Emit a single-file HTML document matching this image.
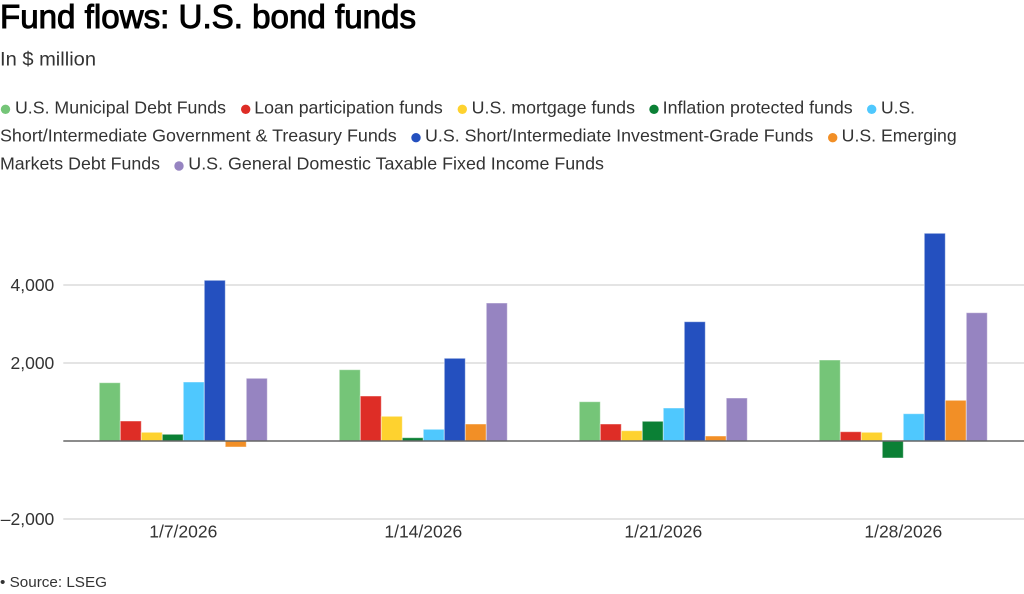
<!DOCTYPE html>
<html>
<head>
<meta charset="utf-8">
<style>
  html, body { margin: 0; padding: 0; background: #fff; }
  body { width: 1024px; height: 594px; overflow: hidden; }
  svg { display: block; }
  text { font-family: "Liberation Sans", Arial, sans-serif; }
</style>
</head>
<body>
<svg width="1024" height="594" viewBox="0 0 1024 594" xmlns="http://www.w3.org/2000/svg">
  <rect width="1024" height="594" fill="#fff"/>

  <!-- Title -->
  <text x="0" y="28" font-size="33" fill="#000" stroke="#000" stroke-width="1.0" textLength="416" lengthAdjust="spacingAndGlyphs">Fund flows: U.S. bond funds</text>
  <text x="0" y="65.7" font-size="19" fill="#333" textLength="96" lengthAdjust="spacingAndGlyphs">In $ million</text>

  <!-- Legend -->
  <g font-size="17.6" fill="#333">
    <circle cx="5.5" cy="109.3" r="4.7" fill="#75c578"/>
    <text x="15" y="113.3" textLength="211" lengthAdjust="spacingAndGlyphs">U.S. Municipal Debt Funds</text>
    <circle cx="245.7" cy="109.3" r="4.7" fill="#de2d26"/>
    <text x="254.3" y="113.3" textLength="188.4" lengthAdjust="spacingAndGlyphs">Loan participation funds</text>
    <circle cx="462.3" cy="109.3" r="4.7" fill="#fed22f"/>
    <text x="471.7" y="113.3" textLength="163.3" lengthAdjust="spacingAndGlyphs">U.S. mortgage funds</text>
    <circle cx="654" cy="109.3" r="4.7" fill="#0b8035"/>
    <text x="662.7" y="113.3" textLength="190" lengthAdjust="spacingAndGlyphs">Inflation protected funds</text>
    <circle cx="871.7" cy="109.3" r="4.7" fill="#4fc8fe"/>
    <text x="881" y="113.3" textLength="34" lengthAdjust="spacingAndGlyphs">U.S.</text>

    <text x="0" y="141.7" textLength="396.7" lengthAdjust="spacingAndGlyphs">Short/Intermediate Government &amp; Treasury Funds</text>
    <circle cx="416" cy="137.7" r="4.7" fill="#2450bf"/>
    <text x="425" y="141.7" textLength="388.3" lengthAdjust="spacingAndGlyphs">U.S. Short/Intermediate Investment-Grade Funds</text>
    <circle cx="832.7" cy="137.7" r="4.7" fill="#f28f26"/>
    <text x="841.7" y="141.7" textLength="115" lengthAdjust="spacingAndGlyphs">U.S. Emerging</text>

    <text x="0" y="169.3" textLength="160" lengthAdjust="spacingAndGlyphs">Markets Debt Funds</text>
    <circle cx="179" cy="166" r="4.7" fill="#9684c1"/>
    <text x="188.3" y="169.3" textLength="415.7" lengthAdjust="spacingAndGlyphs">U.S. General Domestic Taxable Fixed Income Funds</text>
  </g>

  <!-- Gridlines -->
  <g stroke="#dcdcdc" stroke-width="1.4">
    <line x1="63.3" y1="285" x2="1024" y2="285"/>
    <line x1="63.3" y1="363" x2="1024" y2="363"/>
    <line x1="63.3" y1="519" x2="1024" y2="519"/>
  </g>

  <!-- Y labels -->
  <g font-size="17.5" fill="#333" text-anchor="end">
    <text x="54.3" y="291">4,000</text>
    <text x="54.3" y="369">2,000</text>
    <text x="54.3" y="525">–2,000</text>
  </g>

  <!-- Bars -->
  <g stroke="rgba(255,255,255,0.45)" stroke-width="1">
    <rect x="99.3"  y="382.7" width="21" height="58.3" fill="#75c578"/>
    <rect x="120.3" y="421"   width="21" height="20"   fill="#de2d26"/>
    <rect x="141.3" y="432.3" width="21" height="8.7"  fill="#fed22f"/>
    <rect x="162.3" y="434.3" width="21" height="6.7"  fill="#0b8035"/>
    <rect x="183.3" y="382"   width="21" height="59"   fill="#4fc8fe"/>
    <rect x="204.3" y="280.3" width="21" height="160.7" fill="#2450bf"/>
    <rect x="225.3" y="441"   width="21" height="6"    fill="#f28f26"/>
    <rect x="246.3" y="378.3" width="21" height="62.7" fill="#9684c1"/>

    <rect x="339.3" y="369.7" width="21" height="71.3" fill="#75c578"/>
    <rect x="360.3" y="396"   width="21" height="45"   fill="#de2d26"/>
    <rect x="381.3" y="416.3" width="21" height="24.7" fill="#fed22f"/>
    <rect x="402.3" y="437.7" width="21" height="3.3"  fill="#0b8035"/>
    <rect x="423.3" y="429.3" width="21" height="11.7" fill="#4fc8fe"/>
    <rect x="444.3" y="358.3" width="21" height="82.7" fill="#2450bf"/>
    <rect x="465.3" y="424"   width="21" height="17"   fill="#f28f26"/>
    <rect x="486.3" y="303"   width="21" height="138"  fill="#9684c1"/>

    <rect x="579.3" y="401.7" width="21" height="39.3" fill="#75c578"/>
    <rect x="600.3" y="424"   width="21" height="17"   fill="#de2d26"/>
    <rect x="621.3" y="430.7" width="21" height="10.3" fill="#fed22f"/>
    <rect x="642.3" y="421.3" width="21" height="19.7" fill="#0b8035"/>
    <rect x="663.3" y="408"   width="21" height="33"   fill="#4fc8fe"/>
    <rect x="684.3" y="321.7" width="21" height="119.3" fill="#2450bf"/>
    <rect x="705.3" y="436"   width="21" height="5"    fill="#f28f26"/>
    <rect x="726.3" y="398"   width="21" height="43"   fill="#9684c1"/>

    <rect x="819.3" y="360"   width="21" height="81"   fill="#75c578"/>
    <rect x="840.3" y="431.7" width="21" height="9.3"  fill="#de2d26"/>
    <rect x="861.3" y="432.3" width="21" height="8.7"  fill="#fed22f"/>
    <rect x="882.3" y="441"   width="21" height="17"   fill="#0b8035"/>
    <rect x="903.3" y="413.7" width="21" height="27.3" fill="#4fc8fe"/>
    <rect x="924.3" y="233.3" width="21" height="207.7" fill="#2450bf"/>
    <rect x="945.3" y="400.3" width="21" height="40.7" fill="#f28f26"/>
    <rect x="966.3" y="312.7" width="21" height="128.3" fill="#9684c1"/>
  </g>

  <!-- Zero line -->
  <line x1="63.3" y1="441" x2="1024" y2="441" stroke="#666" stroke-width="1.6"/>

  <!-- X labels -->
  <g font-size="17.5" fill="#333" text-anchor="middle">
    <text x="183.3" y="537.5">1/7/2026</text>
    <text x="423.3" y="537.5">1/14/2026</text>
    <text x="663.3" y="537.5">1/21/2026</text>
    <text x="903.3" y="537.5">1/28/2026</text>
  </g>

  <!-- Source -->
  <text x="0" y="587" font-size="14.5" fill="#333" textLength="107" lengthAdjust="spacingAndGlyphs">• Source: LSEG</text>
</svg>
</body>
</html>
